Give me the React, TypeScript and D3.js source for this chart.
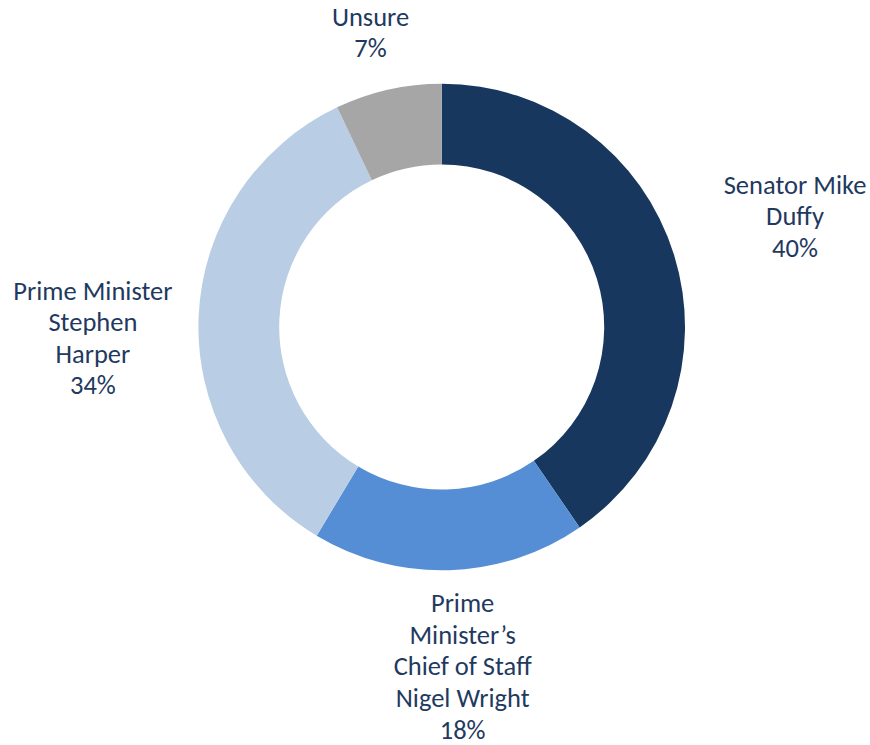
import React from "react";
import * as d3 from "d3";

const categories = [
  ["Senator Mike", "Duffy"],
  ["Prime", "Minister\u2019s", "Chief of Staff", "Nigel Wright"],
  ["Prime Minister", "Stephen", "Harper"],
  ["Unsure"],
];
const values = [40, 18, 34, 7];
const colors = ["#17375E", "#558ED5", "#B9CDE5", "#A6A6A6"];
// label layout: distance from centre and angular nudge (degrees)
const labelDist = [370, 341, 349, 302];
const labelShift = [0, -1.7, -4.7, -0.9];

const W = 870;
const H = 745;
const cx = 441.7;
const cy = 327;
const outerR = 243.3;
const innerR = 162.5;
const fontSize = 26.5;
const lineH = 31.6;
const textColor = "#1F3A60";

export default function App() {
  const pie = d3
    .pie<number>()
    .sort(null)
    .value((d) => d);
  const arcs = pie(values);
  const arc = d3.arc<d3.PieArcDatum<number>>().innerRadius(innerR).outerRadius(outerR);

  return (
    <svg
      width={W}
      height={H}
      style={{ position: "absolute", left: 0, top: 0, background: "#fff" }}
      fontFamily="Carlito, Calibri, Lato, sans-serif"
    >
      <g transform={`translate(${cx},${cy})`}>
        {arcs.map((a, i) => (
          <path key={i} d={arc(a) || ""} fill={colors[i]} />
        ))}
      </g>
      {arcs.map((a, i) => {
        const mid = (a.startAngle + a.endAngle) / 2 + (labelShift[i] * Math.PI) / 180;
        const lx = cx + Math.sin(mid) * labelDist[i];
        const ly = cy - Math.cos(mid) * labelDist[i];
        const lines = [...categories[i], `${values[i]}%`];
        const n = lines.length;
        const firstBaseline = ly + 8 - ((n - 1) * lineH) / 2;
        return (
          <text key={i} textAnchor="middle" fontSize={fontSize} fill={textColor}>
            {lines.map((t, j) => (
              <tspan key={j} x={lx} y={firstBaseline + j * lineH}>
                {t}
              </tspan>
            ))}
          </text>
        );
      })}
    </svg>
  );
}
